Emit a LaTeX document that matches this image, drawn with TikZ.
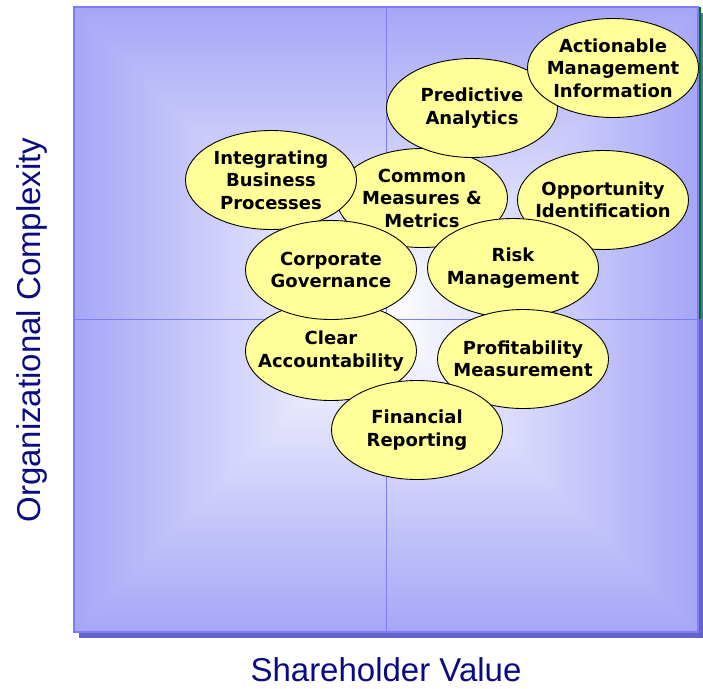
\documentclass[tikz,border=0pt]{standalone}
\usepackage{fontspec}
\setmainfont{DejaVu Sans}
\setsansfont{Liberation Sans}
\usetikzlibrary{shapes.geometric}
\definecolor{bubfill}{RGB}{255,255,153}
\definecolor{gridc}{RGB}{125,125,250}
\definecolor{shadowc}{RGB}{100,100,200}
\definecolor{navyc}{RGB}{10,10,130}
\definecolor{greenc}{RGB}{0,120,0}
\pgfdeclarefunctionalshading{panelshade}{\pgfpoint{-50bp}{-50bp}}{\pgfpoint{50bp}{50bp}}{}{
  abs exch abs 2 copy lt {exch} if pop 25 div
  dup 1 gt {pop 1} if
  dup 0.35 mul 1 exch sub exch
  dup 0.35 mul 1 exch sub exch
  0.03 mul 1 exch sub
}
\newcommand\bubble[3]{%
  \node[bub] (#1) at (#2) {};
  \node[btxt] (#1t) at (#1) {#3};}
\begin{document}
\begin{tikzpicture}[x=1pt,y=-1pt,
  bub/.style={ellipse, draw=black, line width=0.9pt, fill=bubfill,
    minimum width=171pt, minimum height=99pt, inner sep=0pt},
  btxt/.style={align=center, font=\fontsize{18}{22.5}\selectfont\bfseries,
    text=black, inner sep=0pt},
  axislbl/.style={text=navyc, font=\sffamily\fontsize{33}{40}\selectfont, inner sep=0pt},
  gridline/.style={draw=gridc, line width=1.8pt}]
\useasboundingbox (0,0) rectangle (703,688);
% panel
\coordinate (pTL) at (74,7);
\coordinate (pBR) at (698,632);
\fill[shadowc] (79,13) rectangle (703,638);
\shade[shading=panelshade] (pTL) rectangle (pBR);
\draw[gridline] (pTL) rectangle (pBR);
\coordinate (vT) at (386.5,7);
\coordinate (vB) at (386.5,632);
\coordinate (hL) at (74,319.5);
\coordinate (hR) at (699,319.5);
\draw[gridline] (vT) -- (vB);
\draw[gridline] (hL) -- (hR);
\coordinate (gT) at (700,7);
\coordinate (gB) at (700,319);
\draw[greenc, line width=1.5pt] (gT) -- (gB);
% bubbles
\bubble{common}{422,198}{Common\\Measures \&\\Metrics}
\bubble{integ}{271,180}{Integrating\\Business\\Processes}
\bubble{pred}{472,108}{Predictive\\Analytics}
\bubble{act}{613,68}{Actionable\\Management\\Information}
\bubble{opp}{603,200}{Opportunity\\Identification}
\bubble{risk}{513,268}{Risk\\Management}
\bubble{prof}{523,359}{Profitability\\Measurement}
\bubble{clear}{331,351}{Clear\\Accountability}
\bubble{corp}{331,270}{Corporate\\Governance}
\bubble{fin}{417,430}{Financial\\Reporting}
% axis labels
\node[axislbl, rotate=90] (ylab) at (32,330) {Organizational Complexity};
\node[axislbl] (xlab) at (386,670) {Shareholder Value};
\end{tikzpicture}
\end{document}
